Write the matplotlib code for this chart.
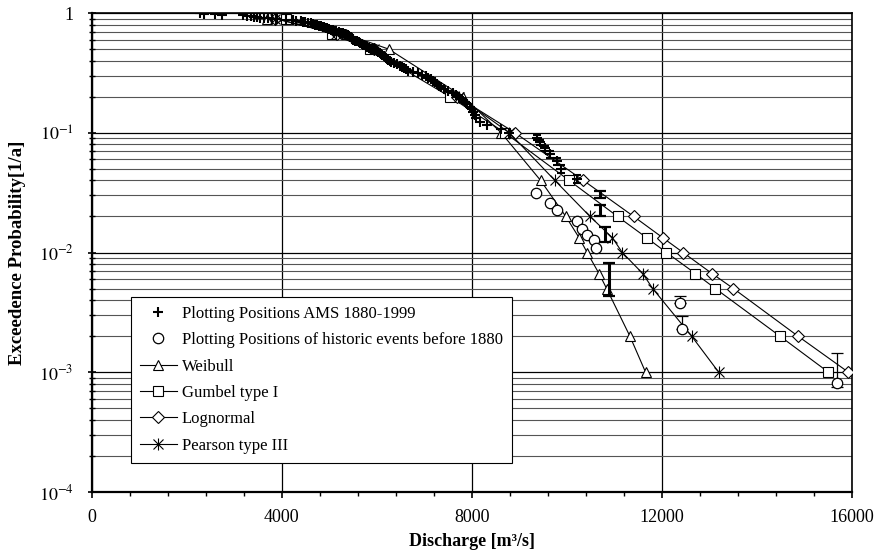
import matplotlib
matplotlib.use("Agg")
import matplotlib.pyplot as plt
import numpy as np
from matplotlib.ticker import FixedLocator, LogLocator, MultipleLocator, NullFormatter
from matplotlib.legend_handler import HandlerTuple

plt.rcParams["font.family"] = ["Liberation Serif", "DejaVu Serif"]
plt.rcParams["mathtext.fontset"] = "stix"

# plotting positions AMS 1880-1999 (discharge, exceedence probability)
ams_q = [2270, 2370, 2600, 2750, 3190, 3280, 3350, 3420, 3480, 3550, 3620, 3720, 3800, 3900,
         4100, 4230, 4300, 4400, 4450, 4500, 4560, 4620, 4660, 4700, 4740, 4790, 4830, 4870,
         4900, 4930, 4960, 5000, 5040, 5080, 5110, 5150, 5200, 5250, 5300, 5330, 5360, 5390,
         5410, 5430, 5450, 5470, 5480, 5500, 5510, 5540, 5580, 5620, 5650, 5680, 5710, 5740,
         5770, 5800, 5840, 5880, 5920, 5960, 6000, 6030, 6060, 6090, 6120, 6150, 6170, 6190,
         6220, 6240, 6270, 6300, 6360, 6420, 6480, 6530, 6570, 6610, 6660, 6760, 6860, 6950,
         7030, 7090, 7140, 7190, 7230, 7270, 7310, 7350, 7420, 7500, 7600, 7660, 7740, 7800,
         7860, 7910, 7960, 8000, 8030, 8060, 8090, 8180, 8320, 8620, 8780]
ams_p = [0.992, 0.983, 0.975, 0.967, 0.959, 0.950, 0.942, 0.934, 0.926, 0.917, 0.909, 0.901,
         0.893, 0.884, 0.876, 0.868, 0.860, 0.851, 0.843, 0.835, 0.826, 0.818, 0.810, 0.802,
         0.793, 0.785, 0.777, 0.769, 0.760, 0.752, 0.744, 0.736, 0.727, 0.719, 0.711, 0.702,
         0.694, 0.686, 0.678, 0.669, 0.661, 0.653, 0.645, 0.636, 0.628, 0.620, 0.612, 0.603,
         0.595, 0.587, 0.579, 0.570, 0.562, 0.554, 0.545, 0.537, 0.529, 0.521, 0.512, 0.504,
         0.496, 0.488, 0.479, 0.471, 0.463, 0.455, 0.446, 0.438, 0.430, 0.421, 0.413, 0.405,
         0.397, 0.388, 0.380, 0.372, 0.364, 0.355, 0.347, 0.339, 0.331, 0.322, 0.314, 0.306,
         0.298, 0.289, 0.281, 0.273, 0.264, 0.256, 0.248, 0.240, 0.231, 0.223, 0.215, 0.207,
         0.198, 0.190, 0.182, 0.174, 0.165, 0.157, 0.149, 0.140, 0.132, 0.124, 0.116, 0.107,
         0.099]
# largest AMS events with small uncertainty caps
top_q = [9367, 9447, 9542, 9658, 9788, 9879, 10209]
top_p = [0.091, 0.083, 0.074, 0.066, 0.058, 0.050, 0.041]
top_lo = [0.087, 0.079, 0.070, 0.062, 0.054, 0.046, 0.038]
top_hi = [0.095, 0.087, 0.078, 0.070, 0.062, 0.054, 0.044]
# uncertainty ranges of the four largest AMS events
bar_q = [10700, 10700, 10806, 10890]
bar_lo = [0.0288, 0.0202, 0.0122, 0.0043]
bar_hi = [0.0327, 0.0249, 0.0164, 0.0082]

# historic events before 1880
hist_q = [9353, 9638, 9796, 10210, 10315, 10426, 10574, 10616, 12384, 12426, 15683]
hist_p = [0.0316, 0.0259, 0.0226, 0.0183, 0.0156, 0.0141, 0.0127, 0.0110, 0.00377, 0.00229, 0.00082]
herr_q = [12384, 12426, 15683]
herr_p = [0.00377, 0.00229, 0.00082]
herr_lo = [0.00377, 0.00229, 0.00075]
herr_hi = [0.00433, 0.00295, 0.00146]

# fitted distributions
p_levels = [0.9, 0.667, 0.5, 0.2, 0.1, 0.04, 0.02, 0.0133, 0.01, 0.00667, 0.005, 0.002, 0.001]
weibull = [3700, 5350, 6250, 7820, 8620, 9450, 9980, 10260, 10430, 10680, 10840, 11330, 11660]
gumbel = [4100, 5050, 5850, 7540, 8700, 10050, 11070, 11680, 12100, 12710, 13130, 14490, 15510]
lognormal = [3860, 5160, 5950, 7700, 8910, 10350, 11410, 12020, 12450, 13060, 13510, 14870, 15930]
pearson = [3860, 5150, 5950, 7730, 8790, 9750, 10490, 10960, 11170, 11600, 11810, 12630, 13200]

fig = plt.figure(figsize=(8.79, 5.52), dpi=100)
ax = fig.add_axes([0.1043, 0.1087, 0.8647, 0.8677])
ax.set_yscale("log")
ax.set_xlim(0, 16000)
ax.set_ylim(1e-4, 1)

ax.grid(which="major", axis="y", color="k", lw=0.9)
ax.grid(which="minor", axis="y", color="#555555", lw=0.8)
ax.grid(which="major", axis="x", color="k", lw=0.9)
ax.set_axisbelow(True)

kw = dict(color="k", lw=0.8, mfc="white", mec="k", mew=0.8, zorder=3)
lw_, = ax.plot(weibull, p_levels, marker="^", ms=7.5, **kw)
lg_, = ax.plot(gumbel, p_levels, marker="s", ms=7, **kw)
ll_, = ax.plot(lognormal, p_levels, marker="D", ms=6, **kw)
lp_, = ax.plot(pearson, p_levels, marker="x", ms=7, **kw)
lp2, = ax.plot(pearson, p_levels, ls="none", marker="|", ms=8, mec="k", mew=0.8, zorder=3)

la, = ax.plot(ams_q, ams_p, ls="none", marker="+", ms=7, mew=1.5, color="k", zorder=4)
ax.errorbar(top_q, top_p,
            yerr=[np.subtract(top_p, top_lo), np.subtract(top_hi, top_p)],
            fmt="+", ms=7, mew=1.5, color="k", elinewidth=1.2, capsize=3, capthick=1.2, zorder=4)
bar_mid = np.sqrt(np.multiply(bar_lo, bar_hi))
ax.errorbar(bar_q, bar_mid, yerr=[bar_mid - bar_lo, np.subtract(bar_hi, bar_mid)],
            fmt="none", ecolor="k", elinewidth=2.2, capsize=4, capthick=1.6, zorder=4)

lh, = ax.plot(hist_q, hist_p, ls="none", marker="o", ms=7.5, mfc="white", mec="k", mew=0.9, zorder=5)
ax.errorbar(herr_q, herr_p,
            yerr=[np.subtract(herr_p, herr_lo), np.subtract(herr_hi, herr_p)],
            fmt="none", ecolor="k", elinewidth=0.9, capsize=4, capthick=0.9, zorder=4)

ax.set_xticks([0, 4000, 8000, 12000, 16000])
ax.set_xticklabels(["0", "4000", "8000", "12000", "16000"])
ax.xaxis.set_minor_locator(MultipleLocator(800))
ax.yaxis.set_major_locator(FixedLocator([1e-4, 1e-3, 1e-2, 1e-1, 1]))
ax.set_yticklabels([r"$10^{-4}$", r"$10^{-3}$", r"$10^{-2}$", r"$10^{-1}$", "1"])
ax.yaxis.set_minor_locator(LogLocator(base=10, subs=np.arange(2, 10)))
ax.yaxis.set_minor_formatter(NullFormatter())
ax.tick_params(axis="y", which="major", direction="inout", length=6, width=1.2, labelsize=13, pad=10)
ax.tick_params(axis="y", which="minor", direction="inout", length=4, width=1)
ax.tick_params(axis="x", which="major", direction="out", length=4, width=1.2, labelsize=13, pad=8)
ax.tick_params(axis="x", which="minor", direction="out", length=3, width=1)
for s in ["left", "bottom"]:
    ax.spines[s].set_linewidth(1.6)
for s in ["right", "top"]:
    ax.spines[s].set_linewidth(1.2)

ax.set_xlabel("Discharge [m³/s]", fontsize=13, fontweight="bold", labelpad=5)
ax.set_ylabel("Exceedence Probability[1/a]", fontsize=13.5, fontweight="bold", labelpad=9)

leg = ax.legend([la, lh, lw_, lg_, ll_, (lp_, lp2)],
                ["Plotting Positions AMS 1880-1999",
                 "Plotting Positions of historic events before 1880",
                 "Weibull", "Gumbel type I", "Lognormal", "Pearson type III"],
                handler_map={tuple: HandlerTuple(ndivide=1, pad=0)},
                loc="upper left", bbox_to_anchor=(0.0513, 0.4077), borderaxespad=0,
                fontsize=12, frameon=True, fancybox=False, framealpha=1,
                edgecolor="k", handlelength=2.2, handletextpad=0.3, labelspacing=0.62,
                borderpad=0.55)
leg.get_frame().set_linewidth(0.8)
leg.set_zorder(10)

fig.savefig("out.png", dpi=100)
